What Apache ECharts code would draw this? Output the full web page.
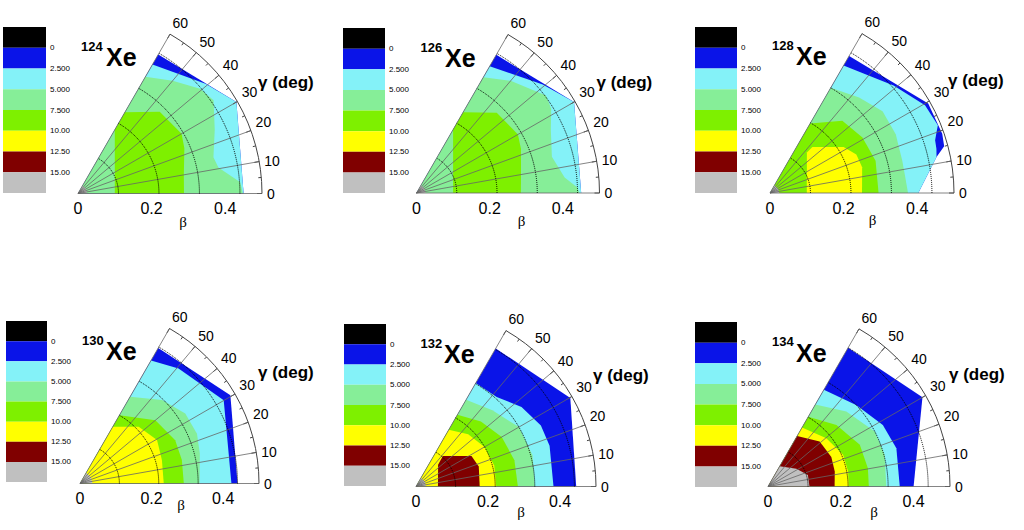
<!DOCTYPE html>
<html>
<head>
<meta charset="utf-8">
<script src="https://cdn.jsdelivr.net/npm/echarts/dist/echarts.min.js"></script>
<style>
html,body{margin:0;padding:0;background:#fff;}
#chart{width:1024px;height:530px;}
</style>
</head>
<body>
<div id="chart"></div>
<script>
// ---------- data ----------
const NUCLEI = ['124', '126', '128', '130', '132', '134'];
const LEVEL_LOWS = [-2.5, 0, 2.5, 5, 7.5, 10, 12.5, 15];          // colour bands of the scale
const LEVEL_TICKS = [0, 2.5, 5, 7.5, 10, 12.5, 15];
const LEVEL_LABELS = ['0', '2.500', '5.000', '7.500', '10.00', '12.50', '15.00'];
const GAMMA_TICKS = [0, 10, 20, 30, 40, 50, 60];
const BETA_TICKS = [0, 0.2, 0.4];
const BETA_RINGS = [0.11, 0.22, 0.33, 0.44];

// regions: [band index, polygon of [gamma(deg), beta] vertices], painted outer -> inner
const REG_124 = [
  [1, [[0,0],[0,0.45],[30,0.497],[60,0.436]]],
  [2, [[0,0],[0,0.45],[30,0.497],[40.7,0.457],[60,0.405]]],
  [3, [[0,0],[0,0.448],[4,0.442],[10.5,0.388],[15,0.381],[25,0.41],[34.5,0.447],[40.6,0.437],[50,0.40],[60,0.366]]],
  [4, [[0,0.10],[60,0.20],[60,0.255],[45,0.314],[30,0.325],[23,0.314],[10,0.292],[0,0.288]]],
  [7, [[0,0],[0,0.025],[30,0.025],[60,0.025]]]
];
const REG_126 = [
  [1, [[0,0],[0,0.45],[30,0.497],[60,0.436]]],
  [2, [[0,0],[0,0.45],[30,0.497],[40.7,0.455],[60,0.40]]],
  [3, [[0,0],[0,0.445],[2,0.44],[6,0.407],[15,0.383],[25,0.405],[32,0.434],[37,0.443],[50,0.40],[60,0.365]]],
  [4, [[0,0.10],[60,0.20],[60,0.255],[45,0.31],[30,0.32],[23,0.31],[10,0.29],[0,0.285]]],
  [7, [[0,0],[0,0.025],[30,0.025],[60,0.025]]]
];
const REG_128 = [
  [1, [[0,0],[0,0.403],[12.2,0.463],[15,0.49],[19,0.495],[29.5,0.494],[60,0.43]]],
  [2, [[0,0],[0,0.403],[12.2,0.463],[14.9,0.468],[17.7,0.471],[20.1,0.482],[22,0.492],[29.5,0.484],[41,0.445],[60,0.40]]],
  [3, [[0,0],[0,0.375],[7,0.37],[14,0.37],[25,0.377],[36,0.378],[47,0.355],[60,0.33]]],
  [4, [[0,0],[0,0.295],[17,0.30],[31,0.293],[45,0.278],[60,0.218]]],
  [5, [[0,0.10],[47.7,0.149],[47.4,0.170],[32,0.236],[24.1,0.257],[15.6,0.26],[0,0.25]]],
  [7, [[0,0],[0,0.025],[30,0.025],[60,0.025]]]
];
const REG_130 = [
  [1, [[0,0],[0,0.44],[30.4,0.487],[60,0.437]]],
  [2, [[0,0],[0,0.423],[30.1,0.464],[49.4,0.423],[60,0.397]]],
  [3, [[0,0],[0,0.334],[14,0.345],[23,0.355],[33.6,0.353],[45.5,0.327],[60,0.28]]],
  [4, [[0,0],[0,0.29],[13,0.292],[24.4,0.292],[40,0.275],[60,0.22]]],
  [5, [[0,0],[0,0.234],[16,0.238],[29.4,0.247],[44,0.228],[60,0.183]]],
  [7, [[0,0],[0,0.035],[30,0.035],[60,0.035]]]
];
const REG_132 = [
  [1, [[0,0],[0,0.445],[29.8,0.494],[60,0.443]]],
  [2, [[0,0],[0,0.382],[17,0.388],[26,0.386],[37,0.367],[48,0.335],[60,0.332]]],
  [3, [[0,0],[0,0.33],[15,0.335],[30,0.33],[45,0.30],[60,0.278]]],
  [4, [[0,0],[0,0.283],[15,0.283],[30,0.275],[45,0.255],[60,0.23]]],
  [5, [[0,0],[0,0.223],[15,0.225],[30,0.22],[45,0.205],[60,0.182]]],
  [6, [[0,0.061],[44.5,0.086],[48.6,0.113],[28.9,0.176],[17.7,0.183],[0,0.177]]],
  [7, [[0,0],[0,0.028],[30,0.028],[60,0.028]]]
];
const REG_134 = [
  [1, [[0,0],[0,0.40],[30,0.49],[60,0.44]]],
  [2, [[0,0],[0,0.362],[16.6,0.368],[28.2,0.358],[42.8,0.33],[60,0.307]]],
  [3, [[0,0],[0,0.325],[15.2,0.332],[27.3,0.33],[43.8,0.298],[60,0.26]]],
  [4, [[0,0],[0,0.277],[10.4,0.279],[24.4,0.277],[42,0.253],[60,0.221]]],
  [5, [[0,0],[0,0.222],[10.6,0.224],[22.9,0.224],[39.6,0.208],[60,0.187]]],
  [6, [[0,0],[0,0.183],[12.7,0.188],[25,0.192],[41,0.188],[60,0.16]]],
  [7, [[0,0],[0,0.114],[16,0.114],[32,0.092],[60,0.064]]]
];
const REGIONS = [REG_124, REG_126, REG_128, REG_130, REG_132, REG_134];

// ---------- styles / layout ----------
const COLORS = ['#000000','#0a14e8','#84f2f8','#86ee98','#7ef000','#ffff00','#800000','#c0c0c0'];
const FONT = 'Arial, "Liberation Sans", Helvetica, sans-serif';
const LAYOUT = [
  {cx:78,  cy:193.5, R:184, leg:[3,27,43,166],   sup:[81,46],     xe:[106,57],    gam:[258,82],    beta:[183,222]},
  {cx:416.5,cy:193,  R:183, leg:[343,28,42,165], sup:[420.5,47],  xe:[445,57.5],  gam:[596.5,82],  beta:[521.5,221]},
  {cx:770, cy:193,   R:184, leg:[695,27,42,166], sup:[772,45.5],  xe:[796,56.3],  gam:[948,80.3],  beta:[872.5,220]},
  {cx:80,  cy:483.5, R:179, leg:[6,321,41,161],  sup:[82,340.3],  xe:[106,350.5], gam:[258,372.5], beta:[181,505]},
  {cx:416, cy:486.5, R:180, leg:[344,324,42,162],sup:[420.5,343.7],xe:[444,354.2],gam:[593,375.3], beta:[521,511.7]},
  {cx:768, cy:486.5, R:182, leg:[695,322,42,165],sup:[772,341.7], xe:[796,352.5], gam:[949,374],   beta:[874,512]}
];

const option = {
  animation: false,
  backgroundColor: '#ffffff',
  polar: [], angleAxis: [], radiusAxis: [],
  grid: [], xAxis: [], yAxis: [],
  series: [], graphic: []
};

LAYOUT.forEach((L, i) => {
  const pA = 2 * i, pB = 2 * i + 1;
  option.polar.push({center: [L.cx, L.cy], radius: [0, L.R]});
  option.polar.push({center: [L.cx, L.cy], radius: [0, L.R * BETA_RINGS[3] / 0.5]});

  option.angleAxis.push({
    polarIndex: pA, type: 'value', min: GAMMA_TICKS[0], max: GAMMA_TICKS[GAMMA_TICKS.length - 1], interval: 10,
    startAngle: 0, endAngle: 60, clockwise: false, z: 5,
    axisLine: {show: true, lineStyle: {color: '#444', width: 1}},
    axisTick: {show: true, inside: true, length: 5, lineStyle: {color: '#444'}},
    minorTick: {show: true, splitNumber: 2, length: 3, lineStyle: {color: '#444'}},
    axisLabel: {show: true, fontSize: 14, color: '#000', fontFamily: FONT, margin: 5},
    splitLine: {show: true, lineStyle: {color: '#666', width: 0.8}}
  });
  option.radiusAxis.push({
    polarIndex: pA, type: 'value', min: 0, max: 0.5, interval: 0.2, z: 5,
    axisLine: {show: false}, axisTick: {show: false}, splitLine: {show: false},
    axisLabel: {show: true, fontSize: 16, color: '#000', fontFamily: FONT, margin: -7,
      verticalAlign: 'top', align: 'center', showMaxLabel: false,
      formatter: v => { const t = BETA_TICKS.find(b => Math.abs(b - v) < 1e-6); return t === undefined ? '' : (t === 0 ? '0' : t.toFixed(1)); }}
  });
  option.angleAxis.push({
    polarIndex: pB, type: 'value', min: 0, max: 60, startAngle: 0, endAngle: 60, clockwise: false,
    axisLine: {show: false}, axisTick: {show: false}, axisLabel: {show: false}, splitLine: {show: false}
  });
  option.radiusAxis.push({
    polarIndex: pB, type: 'value', min: 0, max: BETA_RINGS[3], interval: BETA_RINGS[0], z: 6,
    axisLine: {show: false}, axisTick: {show: false}, axisLabel: {show: false},
    splitLine: {show: true, lineStyle: {color: '#000', type: 'dotted', width: 1}}
  });

  const regs = REGIONS[i];
  option.series.push({
    type: 'custom', coordinateSystem: 'polar', polarIndex: pA, silent: true, z: 2,
    data: regs.map((r) => [r[1][1][1], r[1][1][0]]),
    renderItem: (params, api) => {
      const r = regs[params.dataIndex];
      const pts = r[1].map(p => api.coord([p[1], p[0]]));
      return {type: 'polygon', shape: {points: pts}, style: {fill: COLORS[r[0]], stroke: null}};
    }
  });

  // colour scale
  option.grid.push({left: L.leg[0], top: L.leg[1], width: L.leg[2], height: L.leg[3], containLabel: false});
  option.xAxis.push({gridIndex: i, type: 'value', min: 0, max: 1, show: false});
  option.yAxis.push({
    gridIndex: i, type: 'value', min: -2.5, max: 17.5, interval: 2.5, inverse: true, position: 'right',
    axisLine: {show: false}, axisTick: {show: false}, splitLine: {show: false},
    axisLabel: {show: true, fontSize: 8, color: '#000', fontFamily: FONT, margin: 4, align: 'left',
      formatter: v => { const k = LEVEL_TICKS.findIndex(t => Math.abs(t - v) < 1e-6); return k < 0 ? '' : LEVEL_LABELS[k]; }}
  });
  option.series.push({
    type: 'custom', coordinateSystem: 'cartesian2d', xAxisIndex: i, yAxisIndex: i, silent: true,
    data: LEVEL_LOWS.map(lo => [0, lo]),
    renderItem: (params, api) => {
      const lo = LEVEL_LOWS[params.dataIndex];
      const a = api.coord([0, lo]), b = api.coord([1, lo + 2.5]);
      return {type: 'rect', shape: {x: Math.min(a[0], b[0]), y: Math.min(a[1], b[1]),
        width: Math.abs(b[0] - a[0]), height: Math.abs(b[1] - a[1])},
        style: {fill: COLORS[params.dataIndex]}};
    }
  });

  // texts
  const txt = (x, y, text, font, align) => ({type: 'text', x: x, y: y, silent: true, z: 10,
    style: {text: text, font: font, fill: '#000', align: align || 'left', verticalAlign: 'middle',
            textAlign: align || 'left', textVerticalAlign: 'middle'}});
  option.graphic.push(txt(L.sup[0], L.sup[1], NUCLEI[i], 'bold 13px ' + FONT));
  option.graphic.push(txt(L.xe[0], L.xe[1], 'Xe', 'bold 25px ' + FONT));
  option.graphic.push(txt(L.gam[0], L.gam[1], 'γ (deg)', 'bold 17px ' + FONT));
  option.graphic.push(txt(L.beta[0], L.beta[1], 'β', '15px "Liberation Serif", "Times New Roman", serif', 'center'));
});

const chart = echarts.init(document.getElementById('chart'), null, {renderer: 'svg', width: 1024, height: 530});
chart.setOption(option);
</script>
</body>
</html>
